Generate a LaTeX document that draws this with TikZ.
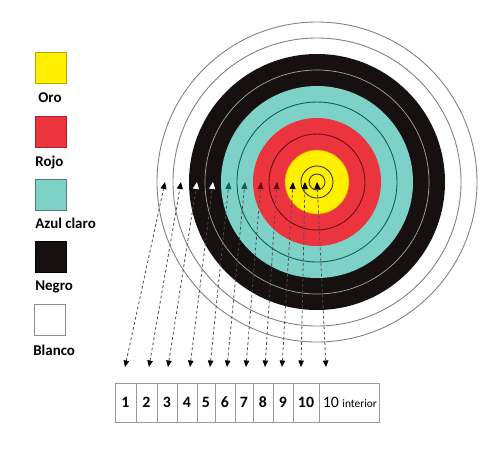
\documentclass[tikz,border=0pt]{standalone}
\usepackage{fontspec}
\setmainfont{Carlito}
\usetikzlibrary{arrows.meta,calc,positioning}
\definecolor{oro}{RGB}{255,240,0}
\definecolor{rojo}{RGB}{236,52,62}
\definecolor{azul}{RGB}{126,209,199}
\definecolor{negro}{RGB}{22,16,16}
\definecolor{tealdark}{RGB}{20,90,85}
\definecolor{rojodark}{RGB}{110,10,20}
\def\ringline[#1](#2)(#3){\draw[#1] (#2) circle (#3);}
\tikzset{
  swatch/.style={draw=#1, line width=0.6pt, minimum size=6.3mm, inner sep=0pt},
  lbl/.style={font=\fontsize{8.5}{10}\selectfont\bfseries, inner sep=0pt},
  cell/.style={draw=black!40, line width=0.5pt, minimum height=7.8mm, inner sep=0pt,
    font=\fontsize{9}{10}\selectfont\bfseries},
  guide/.style={draw=black!70, line width=0.45pt, dash pattern=on 1.6pt off 1.4pt}
}

\begin{document}
\begin{tikzpicture}[x=0.2mm, y=-0.2mm]
			%%%%% START %%%%%
			\useasboundingbox[fill=white] (0, 0) rectangle (500, 449);
			
			% legend
			\node[swatch=oro!70!black, fill=oro] (sOro) at (51, 68) {};
			\node[lbl] (lOro) at (50, 98) {Oro};
			\node[swatch=rojo!70!black, fill=rojo] (sRojo) at (51, 132) {};
			\node[lbl, anchor=west] (lRojo) at (35, 163) {Rojo};
			\node[swatch=azul!60!black, fill=azul] (sAzul) at (51, 195) {};
			\node[lbl, anchor=west] (lAzul) at (35, 223) {Azul claro};
			\node[swatch=black, fill=negro] (sNegro) at (51, 257) {};
			\node[lbl, anchor=west] (lNegro) at (35, 287) {Negro};
			\node[swatch=black!45, fill=white] (sBlanco) at (50, 320) {};
			\node[lbl, anchor=west] (lBlanco) at (33, 350) {Blanco};
			
			% target
			\coordinate (c) at (317, 182);
			\draw[fill=white, line width=0.5pt, draw=black!50] (c) circle (160);
			\ringline[line width=0.5pt, draw=black!50](c)(144)
			\fill[negro] (c) circle (128);
			\ringline[line width=0.4pt, draw=black!35](c)(112)
			\fill[azul] (c) circle (96);
			\ringline[line width=0.5pt, draw=tealdark](c)(80)
			\fill[rojo] (c) circle (64);
			\ringline[line width=0.5pt, draw=rojodark](c)(48)
			\draw[fill=oro, line width=0.3pt, draw=rojo!60!oro] (c) circle (32);
			\ringline[line width=0.5pt, draw=black!80](c)(16)
			\ringline[line width=0.5pt, draw=black!80](c)(8)
			
			% score boxes
			\foreach \n/\l/\r in {1/115/136, 2/136/157, 3/157/177, 4/177/197, 5/197/215,
			    6/215/235, 7/235/253, 8/253/273, 9/273/293, 10/293/319}
			  \node[cell, minimum width={(\r-\l)*0.2mm}] (b\n) at ({(\l+\r)/2}, 402.5) {\n};
			\node[cell, minimum width=12mm, anchor=west, font=\fontsize{9}{10}\selectfont]
			  (bX) at (b10.east) {10 {\fontsize{6.5}{8}\selectfont interior}};
			
			% guides from rings to boxes
			\foreach \s/\r/\bx/\tip in {1/152/125/black, 2/136/149/black, 3/120/168/white,
			    4/104/190/white, 5/88/210/tealdark, 6/72/227/tealdark, 7/56/246/rojodark,
			    8/40/265/rojodark, 9/24/282/black, 10/12/301/black, X/0/326/black}
			{
			  \coordinate (t\s) at ($(c)+(-\r, 0)$);
			  \coordinate (e\s) at (\bx, 367);
			  \draw[guide, arrows={Triangle[length=1.3mm, width=1.1mm, color=black]-Triangle[length=1.4mm, width=1.2mm, color=\tip]}] (e\s) -- (t\s);
			}
			%%%%% END %%%%%
\end{tikzpicture}
\end{document}
